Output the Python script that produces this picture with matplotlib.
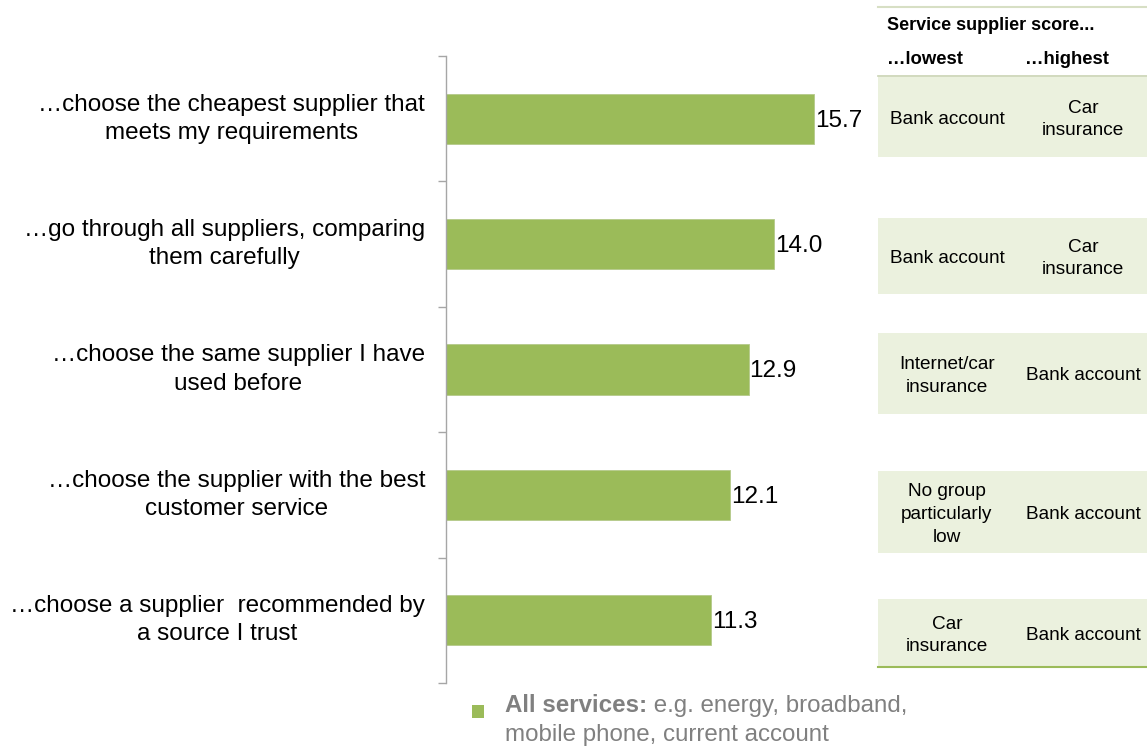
import matplotlib
matplotlib.use("Agg")
import matplotlib.pyplot as plt
from matplotlib.patches import Rectangle
from matplotlib.lines import Line2D

plt.rcParams['font.family'] = ['Liberation Sans', 'DejaVu Sans']

# ---- data ----
statements = [
    "\u2026choose the cheapest supplier that\nmeets my requirements",
    "\u2026go through all suppliers, comparing\nthem carefully",
    "\u2026choose the same supplier I have\nused before",
    "\u2026choose the supplier with the best\ncustomer service",
    "\u2026choose a supplier  recommended by\na source I trust",
]
scores = [15.7, 14.0, 12.9, 12.1, 11.3]
lowest = ["Bank account", "Bank account", "Internet/car\ninsurance",
          "No group\nparticularly\nlow", "Car\ninsurance"]
highest = ["Car\ninsurance", "Car\ninsurance", "Bank account",
           "Bank account", "Bank account"]
legend_bold = "All services:"
legend_rest = " e.g. energy, broadband,"
legend_line2 = "mobile phone, current account"

W, H = 1147, 749
fig = plt.figure(figsize=(W / 100, H / 100), dpi=100)

def fx(px):
    return px / W

def fy(py):
    return 1 - py / H

GREEN = "#9BBB59"
PALE = "#EBF1DE"

# ---- bar chart ----
ax_left, ax_right, ax_top, ax_bot = 446, 870, 56, 683
ax = fig.add_axes([fx(ax_left), fy(ax_bot), fx(ax_right - ax_left), (ax_bot - ax_top) / H])
px_per_unit = 23.45
ax.set_xlim(0, (ax_right - ax_left) / px_per_unit)
n = len(scores)
ypos = list(range(n))
ax.barh(ypos, scores, height=0.4, color=GREEN, edgecolor="#B5C98A", linewidth=0.6, zorder=2)
ax.set_ylim(n - 0.5, -0.5)

for y, v in zip(ypos, scores):
    ax.annotate(f"{v:.1f}", xy=(v, y), xytext=(1, -2), textcoords="offset pixels",
                va="center", ha="left", fontsize=17.5, color="black")

for s in ["top", "right", "bottom"]:
    ax.spines[s].set_visible(False)
ax.spines["left"].set_color("#A6A6A6")
ax.spines["left"].set_linewidth(1.0)
ax.set_xticks([])
ax.set_yticks([i - 0.5 for i in range(n + 1)])
ax.set_yticklabels([])
ax.tick_params(axis="y", direction="out", length=6, color="#A6A6A6", width=1.0)

for y, lab in zip(ypos, statements):
    ax.annotate(lab, xy=(0, y), xycoords=("axes fraction", "data"),
                xytext=(-21, 0), textcoords="offset pixels",
                ha="right", va="center", multialignment="center",
                fontsize=17.5, color="black", linespacing=1.36)

# ---- side table ----
tx0, tx1 = 878, 1147
col_lo, col_hi = 947, 1083
fig.add_artist(Line2D([fx(tx0), fx(tx1)], [fy(7), fy(7)], color="#D7DFC4", lw=1.5))
fig.text(fx(887), fy(25), "Service supplier score...", fontsize=13, fontweight="bold",
         ha="left", va="center")
fig.text(fx(887), fy(59), "\u2026lowest", fontsize=13.3, fontweight="bold", ha="left", va="center")
fig.text(fx(1025), fy(59), "\u2026highest", fontsize=13.3, fontweight="bold", ha="left", va="center")
fig.add_artist(Line2D([fx(tx0), fx(tx1)], [fy(76), fy(76)], color="#C9D3B3", lw=1.2))

boxes = [(77, 157), (218, 294), (333, 414), (471, 553), (599, 667)]
for (b0, b1), lo, hi in zip(boxes, lowest, highest):
    fig.add_artist(Rectangle((fx(tx0), fy(b1)), fx(tx1 - tx0), (b1 - b0) / H,
                             facecolor=PALE, edgecolor="none", zorder=0))
    yc = fy((b0 + b1) / 2 + 2.5)
    fig.text(fx(col_lo), yc, lo, fontsize=13.7, ha="center", va="center",
             multialignment="center", linespacing=1.45)
    fig.text(fx(col_hi), yc, hi, fontsize=13.7, ha="center", va="center",
             multialignment="center", linespacing=1.45)
fig.add_artist(Line2D([fx(tx0), fx(tx1)], [fy(667), fy(667)], color=GREEN, lw=1.5))

# ---- legend ----
fig.add_artist(Rectangle((fx(472), fy(718)), fx(12), 13 / H, facecolor=GREEN, edgecolor="none"))
GREY = "#808080"
t1 = fig.text(fx(505), fy(706), legend_bold, fontsize=17.4, fontweight="bold", color=GREY,
              ha="left", va="center")
fig.canvas.draw()
bb = t1.get_window_extent()
fig.text(bb.x1 / W, fy(706), legend_rest, fontsize=17.4, color=GREY, ha="left", va="center")
fig.text(fx(505), fy(735), legend_line2, fontsize=17.4, color=GREY, ha="left", va="center")

fig.savefig("out.png", dpi=100)
